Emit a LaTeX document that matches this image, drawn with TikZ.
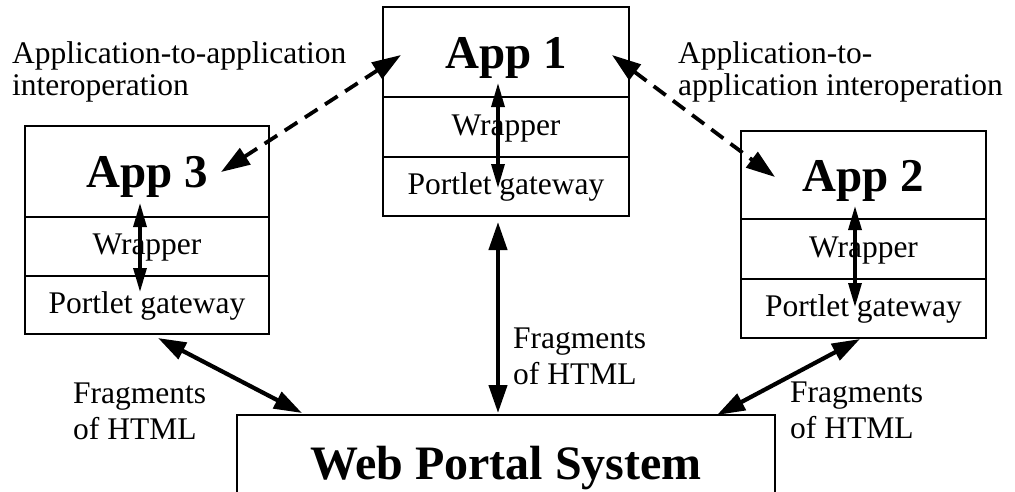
\documentclass[tikz,border=0pt]{standalone}
\usepackage{fontspec}
\setmainfont{Liberation Serif}
\usetikzlibrary{arrows.meta,calc}

\begin{document}
\begin{tikzpicture}[x=1pt,y=-1pt,
  sect/.style={draw,line width=1.7pt,inner sep=0pt,outer sep=0pt,
    font=\fontsize{31.5}{31.5}\selectfont,text height=22pt,text depth=6pt},
  titlesect/.style={sect,font=\bfseries\fontsize{47}{47}\selectfont,
    text height=32pt,text depth=0pt},
  websect/.style={sect,font=\bfseries\fontsize{48}{48}\selectfont,
    text height=32pt,text depth=0pt},
  inner/.style={line width=3.3pt,
    {Triangle[length=24pt,width=13pt]}-{Triangle[length=24pt,width=13pt]}},
  outer/.style={line width=4.2pt,
    {Triangle[length=28pt,width=18pt]}-{Triangle[length=28pt,width=18pt]}},
  interop/.style={line width=3.8pt,dash pattern=on 15pt off 9pt,
    {Triangle[length=29pt,width=19pt]}-{Triangle[length=29pt,width=19pt]}},
  toplbl/.style={inner sep=0pt,anchor=base west,font=\fontsize{31.5}{32}\selectfont},
  fraglbl/.style={inner sep=0pt,anchor=base west,font=\fontsize{31.5}{36}\selectfont}
]
\useasboundingbox (0,0) rectangle (1015,491);
\clip (0,0) rectangle (1015,491);

% App 1
\node[titlesect,minimum width=246pt,minimum height=90pt] (a1top) at (506,52) {App 1};
\node[sect,minimum width=246pt,minimum height=60pt] (a1wrap) at (506,127) {Wrapper};
\node[sect,minimum width=246pt,minimum height=59pt] (a1gate) at (506,186.5) {Portlet gateway};

% App 3
\node[titlesect,minimum width=244pt,minimum height=91pt] (a3top) at (147,171.5) {App 3};
\node[sect,minimum width=244pt,minimum height=59pt] (a3wrap) at (147,246.5) {Wrapper};
\node[sect,minimum width=244pt,minimum height=58pt] (a3gate) at (147,305) {Portlet gateway};

% App 2
\node[titlesect,minimum width=245pt,minimum height=88pt] (a2top) at (863.5,175) {App 2};
\node[sect,minimum width=245pt,minimum height=60pt] (a2wrap) at (863.5,249) {Wrapper};
\node[sect,minimum width=245pt,minimum height=59pt] (a2gate) at (863.5,308.5) {Portlet gateway};

% Portal (runs past the lower edge)
\node[websect,minimum width=538pt,minimum height=96pt] (web) at (506,463) {Web Portal System};

% wrapper <-> gateway inside each application
\draw[inner] ($(a1top.center)+(-8,31)$) -- ($(a1gate.center)+(-8,1.5)$);
\draw[inner] ($(a3top.center)+(-7,31.5)$) -- ($(a3gate.center)+(-7,-13)$);
\draw[inner] ($(a2top.center)+(-8.5,31)$) -- ($(a2gate.center)+(-8.5,-1.5)$);

% HTML fragments to the portal
\draw[outer] ($(a3gate.south)+(11,4)$) -- ($(web.north)+(-204,-2)$);
\draw[outer] ($(a1gate.south)+(-8,6)$) -- ($(web.north)+(-8,-2)$);
\draw[outer] ($(a2gate.south)+(-3.5,1)$) -- ($(web.north)+(211,0)$);

% application-to-application links
\draw[interop] ($(a3top.center)+(74,0.5)$) -- ($(a1top.center)+(-105,3)$);
\draw[interop] ($(a1top.center)+(106,3)$) -- ($(a2top.center)+(-88.5,2)$);

% labels
\node[toplbl] (lblL) at (12,63) {\begin{tabular}[t]{@{}l@{}}Application-to-application\\interoperation\end{tabular}};
\node[toplbl] (lblR) at (678,63) {\begin{tabular}[t]{@{}l@{}}Application-to-\\application interoperation\end{tabular}};
\node[fraglbl] (fragL) at (73,403) {\begin{tabular}[t]{@{}l@{}}Fragments\\of HTML\end{tabular}};
\node[fraglbl] (fragM) at (513,348) {\begin{tabular}[t]{@{}l@{}}Fragments\\of HTML\end{tabular}};
\node[fraglbl] (fragR) at (790,402) {\begin{tabular}[t]{@{}l@{}}Fragments\\of HTML\end{tabular}};
\end{tikzpicture}
\end{document}
